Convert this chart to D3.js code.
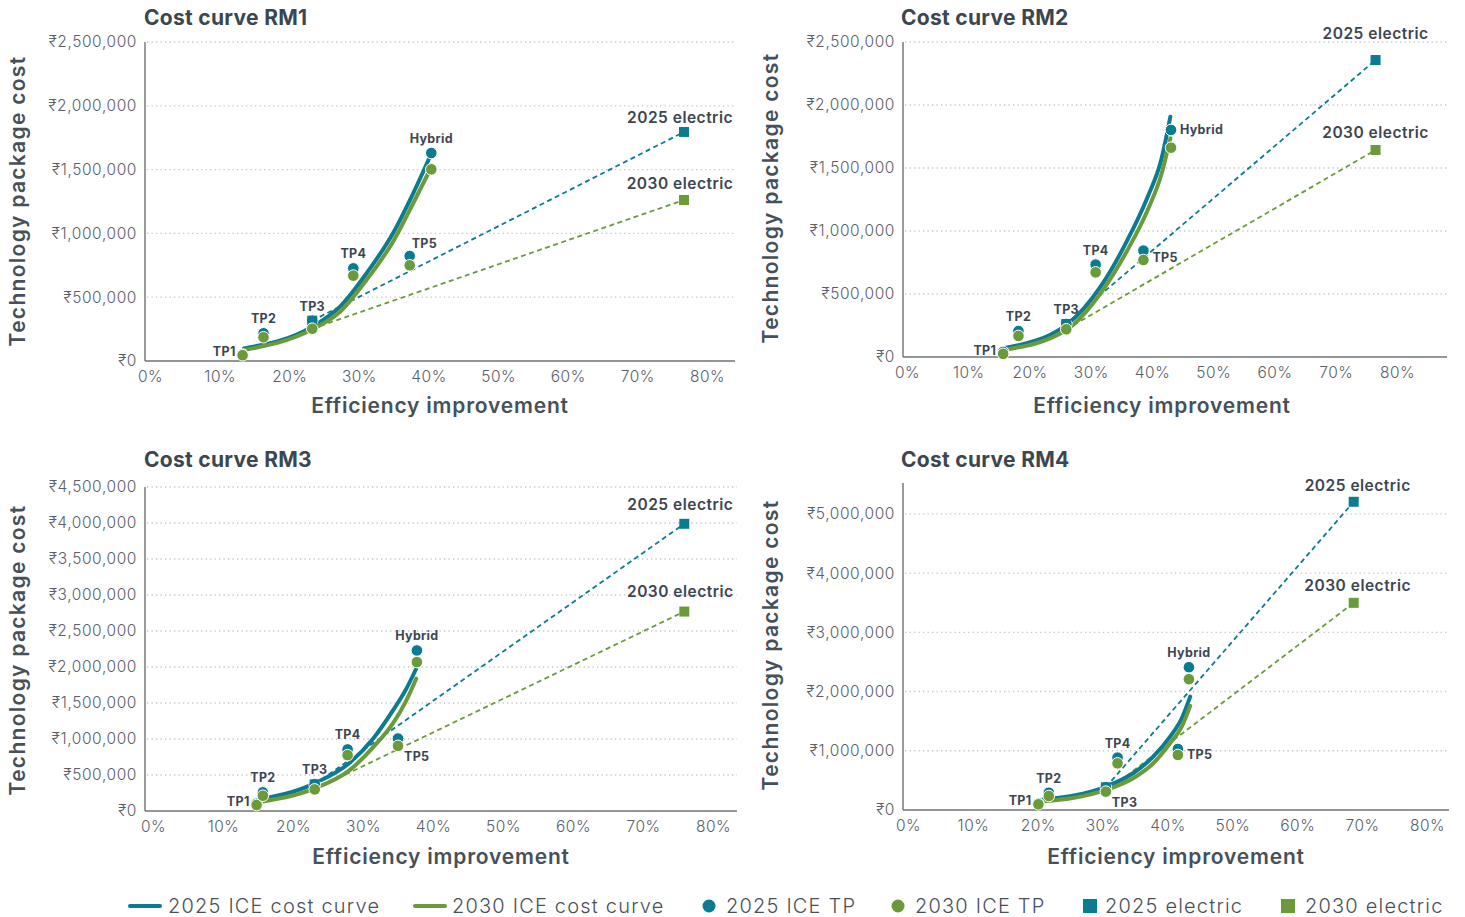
<!DOCTYPE html>
<html>
<head>
<meta charset="utf-8">
<script src="https://cdn.jsdelivr.net/npm/d3@7"></script>
<style>
  html, body { margin: 0; padding: 0; background: #fff; }
  svg { display: block; font-family: "Inter", "Lato", "Noto Sans", sans-serif; }
</style>
</head>
<body>
<svg id="chart" width="1465" height="917"></svg>
<script>
// ---------- data ----------
const panelNames = ["Cost curve RM1", "Cost curve RM2", "Cost curve RM3", "Cost curve RM4"];
const tpNames = ["TP1", "TP2", "TP3", "TP4", "TP5", "Hybrid"];
const xTickValues = [0, 0.1, 0.2, 0.3, 0.4, 0.5, 0.6, 0.7, 0.8];

// RM1
const rm1TpEff = [0.133, 0.163, 0.233, 0.292, 0.373, 0.404];
const rm1Tp2025 = [50000, 217000, 316000, 726000, 823000, 1630000];
const rm1Tp2030 = [45000, 186000, 253000, 669000, 750000, 1502000];
const rm1CurveEff = [0.135, 0.233, 0.273, 0.311, 0.349, 0.378, 0.402];
const rm1Curve2025 = [99000, 269000, 426000, 687000, 1001000, 1314000, 1601000];
const rm1Curve2030 = [86000, 248000, 386000, 635000, 935000, 1236000, 1497000];
const rm1ElecEff = 0.767, rm1Elec2025 = 1795000, rm1Elec2030 = 1262000;
const rm1YTicks = [0, 500000, 1000000, 1500000, 2000000, 2500000];

// RM2
const rm2TpEff = [0.157, 0.182, 0.260, 0.308, 0.386, 0.431];
const rm2Tp2025 = [40000, 206000, 262000, 733000, 844000, 1802000];
const rm2Tp2030 = [25000, 167000, 220000, 672000, 770000, 1661000];
const rm2CurveEff = [0.157, 0.260, 0.316, 0.360, 0.393, 0.415, 0.430];
const rm2Curve2025 = [69000, 254000, 558000, 929000, 1272000, 1563000, 1907000];
const rm2Curve2030 = [56000, 214000, 506000, 849000, 1167000, 1444000, 1736000];
const rm2ElecEff = 0.765, rm2Elec2025 = 2357000, rm2Elec2030 = 1643000;
const rm2YTicks = [0, 500000, 1000000, 1500000, 2000000, 2500000];

// RM3
const rm3TpEff = [0.148, 0.157, 0.231, 0.278, 0.350, 0.377];
const rm3Tp2025 = [100000, 259000, 370000, 855000, 1007000, 2230000];
const rm3Tp2030 = [83000, 212000, 300000, 776000, 905000, 2068000];
const rm3CurveEff = [0.148, 0.231, 0.281, 0.315, 0.343, 0.362, 0.376];
const rm3Curve2025 = [152000, 384000, 670000, 1010000, 1400000, 1700000, 1976000];
const rm3Curve2030 = [120000, 314000, 568000, 891000, 1220000, 1537000, 1838000];
const rm3ElecEff = 0.759, rm3Elec2025 = 3989000, rm3Elec2030 = 2770000;
const rm3YTicks = [0, 500000, 1000000, 1500000, 2000000, 2500000, 3000000, 3500000, 4000000, 4500000];

// RM4
const rm4TpEff = [0.201, 0.217, 0.305, 0.323, 0.416, 0.433];
const rm4Tp2025 = [110000, 292000, 383000, 884000, 1030000, 2410000];
const rm4Tp2030 = [96000, 236000, 310000, 788000, 929000, 2208000];
const rm4CurveEff = [0.203, 0.305, 0.347, 0.378, 0.404, 0.422, 0.435];
const rm4Curve2025 = [169000, 394000, 620000, 900000, 1238000, 1549000, 1914000];
const rm4Curve2030 = [140000, 338000, 535000, 789000, 1127000, 1407000, 1757000];
const rm4ElecEff = 0.687, rm4Elec2025 = 5203000, rm4Elec2030 = 3497000;
const rm4YTicks = [0, 1000000, 2000000, 3000000, 4000000, 5000000];

const legendLabels = ["2025 ICE cost curve", "2030 ICE cost curve", "2025 ICE TP", "2030 ICE TP", "2025 electric", "2030 electric"];

// ---------- styling / layout ----------
const TEAL = "#0a7b90";
const GREEN = "#6b9a3a";
const DARK = "#3c4650";
const TICK = "#5b6068";

// plot boxes: position of 0% and 80% ticks, axis line, right edge, top and bottom of the y range
const layouts = [
  { x0: 150, x80: 707, axisX: 145, right: 735, yTop: 42, yBottom: 361, yMax: 2500000,
    titleX: 144, titleY: 25, xTitleX: 440, xTitleY: 413, yTitleX: 25, yTitleY: 201,
    elecDx: -4, elecDy: [-9, -11],
    labelPos: ["l", "a", "a", "a", "ar", "a"] },
  { x0: 907, x80: 1397, axisX: 903, right: 1447, yTop: 42, yBottom: 357, yMax: 2500000,
    titleX: 901, titleY: 25, xTitleX: 1162, xTitleY: 413, yTitleX: 778, yTitleY: 198,
    elecDx: 0, elecDy: [-21, -12],
    labelPos: ["l", "a", "a", "a", "r", "rh"] },
  { x0: 153, x80: 713, axisX: 145, right: 737, yTop: 487, yBottom: 811, yMax: 4500000,
    titleX: 144, titleY: 467, xTitleX: 441, xTitleY: 864, yTitleX: 25, yTitleY: 650,
    elecDx: -4, elecDy: [-14, -15],
    labelPos: ["l", "a", "a", "a", "br", "a"] },
  { x0: 908, x80: 1427, axisX: 903, right: 1449, yTop: 483, yBottom: 810, yMax: 5520000,
    titleX: 901, titleY: 467, xTitleX: 1176, xTitleY: 864, yTitleX: 778, yTitleY: 645,
    elecDx: 4, elecDy: [-11, -12],
    labelPos: ["l", "a", "br", "a", "r", "a"] }
];

const panels = [
  { tpEff: rm1TpEff, tp2025: rm1Tp2025, tp2030: rm1Tp2030, curveEff: rm1CurveEff, c2025: rm1Curve2025, c2030: rm1Curve2030, elecEff: rm1ElecEff, e2025: rm1Elec2025, e2030: rm1Elec2030, yTicks: rm1YTicks },
  { tpEff: rm2TpEff, tp2025: rm2Tp2025, tp2030: rm2Tp2030, curveEff: rm2CurveEff, c2025: rm2Curve2025, c2030: rm2Curve2030, elecEff: rm2ElecEff, e2025: rm2Elec2025, e2030: rm2Elec2030, yTicks: rm2YTicks },
  { tpEff: rm3TpEff, tp2025: rm3Tp2025, tp2030: rm3Tp2030, curveEff: rm3CurveEff, c2025: rm3Curve2025, c2030: rm3Curve2030, elecEff: rm3ElecEff, e2025: rm3Elec2025, e2030: rm3Elec2030, yTicks: rm3YTicks },
  { tpEff: rm4TpEff, tp2025: rm4Tp2025, tp2030: rm4Tp2030, curveEff: rm4CurveEff, c2025: rm4Curve2025, c2030: rm4Curve2030, elecEff: rm4ElecEff, e2025: rm4Elec2025, e2030: rm4Elec2030, yTicks: rm4YTicks }
];

const svg = d3.select("#chart");
const rupee = v => "\u20B9" + d3.format(",")(v);
const ELECTRIC_START = 2; // electric lines branch off from TP3

function drawPanel(i) {
  const P = panels[i], L = layouts[i];
  const g = svg.append("g");
  const x = d3.scaleLinear().domain([0, 0.8]).range([L.x0, L.x80]);
  const y = d3.scaleLinear().domain([0, L.yMax]).range([L.yBottom, L.yTop]);

  // dotted gridlines
  g.append("g").selectAll("line")
    .data(P.yTicks.filter(v => v > 0))
    .join("line")
    .attr("x1", L.axisX + 2).attr("x2", L.right)
    .attr("y1", d => y(d)).attr("y2", d => y(d))
    .attr("stroke", "#c3c6c9").attr("stroke-width", 1.3)
    .attr("stroke-dasharray", "1.3,3.2");

  // y axis labels
  const yAxis = d3.axisLeft(y).tickValues(P.yTicks).tickSize(0).tickPadding(8).tickFormat(rupee);
  const ya = g.append("g").attr("transform", `translate(${L.axisX},0)`).call(yAxis);
  ya.select(".domain").remove();
  ya.selectAll("text").attr("font-size", 15.5).attr("fill", TICK).attr("font-weight", 300)
    .attr("letter-spacing", 0.6).attr("font-family", "Inter, Lato, sans-serif");

  // x axis labels
  const xAxis = d3.axisBottom(x).tickValues(xTickValues).tickSize(0).tickPadding(10).tickFormat(d3.format(".0%"));
  const xa = g.append("g").attr("transform", `translate(0,${L.yBottom})`).call(xAxis);
  xa.select(".domain").remove();
  xa.selectAll("text").attr("font-size", 15.5).attr("fill", TICK).attr("font-weight", 300)
    .attr("letter-spacing", 0.5).attr("font-family", "Inter, Lato, sans-serif");

  // axis lines
  g.append("line").attr("x1", L.axisX).attr("x2", L.axisX).attr("y1", L.yTop).attr("y2", L.yBottom)
    .attr("stroke", "#6d7379").attr("stroke-width", 1.4);
  g.append("line").attr("x1", L.axisX).attr("x2", L.right).attr("y1", L.yBottom).attr("y2", L.yBottom)
    .attr("stroke", "#6d7379").attr("stroke-width", 1.6);

  // titles
  g.append("text").attr("x", L.titleX).attr("y", L.titleY).text(panelNames[i])
    .attr("font-size", 21).attr("font-weight", 700).attr("letter-spacing", 0.3).attr("fill", DARK);
  g.append("text").attr("x", L.xTitleX).attr("y", L.xTitleY).attr("text-anchor", "middle")
    .text("Efficiency improvement").attr("font-size", 21).attr("font-weight", 600)
    .attr("letter-spacing", 0.8).attr("fill", "#46505a");
  g.append("text").attr("transform", `translate(${L.yTitleX},${L.yTitleY}) rotate(-90)`)
    .attr("text-anchor", "middle").text("Technology package cost")
    .attr("font-size", 21).attr("font-weight", 600).attr("letter-spacing", 1.3).attr("fill", "#46505a");

  // electric dashed lines, from TP3 to the electric point
  const elec = [
    { color: TEAL, pts: [[P.tpEff[ELECTRIC_START], P.tp2025[ELECTRIC_START]], [P.elecEff, P.e2025]], label: "2025 electric", dy: L.elecDy[0] },
    { color: GREEN, pts: [[P.tpEff[ELECTRIC_START], P.tp2030[ELECTRIC_START]], [P.elecEff, P.e2030]], label: "2030 electric", dy: L.elecDy[1] }
  ];
  const straight = d3.line().x(d => x(d[0])).y(d => y(d[1]));
  elec.forEach(e => {
    g.append("path").attr("d", straight(e.pts)).attr("fill", "none")
      .attr("stroke", e.color).attr("stroke-width", 1.8).attr("stroke-dasharray", "5,3.5");
  });

  // ICE cost curves
  const curve = d3.line().x(d => x(d[0])).y(d => y(d[1])).curve(d3.curveMonotoneX);
  [[P.c2025, TEAL], [P.c2030, GREEN]].forEach(([vals, color]) => {
    g.append("path").attr("d", curve(P.curveEff.map((e, k) => [e, vals[k]])))
      .attr("fill", "none").attr("stroke", color).attr("stroke-width", 4).attr("stroke-linecap", "round");
  });

  // markers
  const R = 5.8, S = 10;
  g.append("g").selectAll("circle").data(P.tpEff.map((e, k) => [e, P.tp2025[k]])).join("circle")
    .attr("cx", d => x(d[0])).attr("cy", d => y(d[1])).attr("r", R)
    .attr("fill", TEAL).attr("stroke", "#fff").attr("stroke-width", 1);
  elec.forEach((e, k) => {
    g.append("g").selectAll("rect").data(k === 0 ? e.pts : e.pts.slice(1)).join("rect")
      .attr("x", d => x(d[0]) - S / 2).attr("y", d => y(d[1]) - S / 2)
      .attr("width", S).attr("height", S).attr("fill", e.color);
  });
  g.append("g").selectAll("circle").data(P.tpEff.map((e, k) => [e, P.tp2030[k]])).join("circle")
    .attr("cx", d => x(d[0])).attr("cy", d => y(d[1])).attr("r", R)
    .attr("fill", GREEN).attr("stroke", "#fff").attr("stroke-width", 1);

  // electric labels
  elec.forEach(e => {
    const p = e.pts[1];
    g.append("text").attr("x", x(p[0]) + L.elecDx).attr("y", y(p[1]) + e.dy)
      .attr("text-anchor", "middle").text(e.label)
      .attr("font-size", 15.5).attr("font-weight", 600).attr("letter-spacing", 0.5).attr("fill", DARK);
  });

  // TP labels
  tpNames.forEach((name, k) => {
    const px = x(P.tpEff[k]);
    const hi = y(P.tp2025[k]), lo = y(P.tp2030[k]);
    const pos = L.labelPos[k];
    const t = g.append("text").text(name).attr("font-size", 12.5).attr("font-weight", 700)
      .attr("letter-spacing", 0.3).attr("fill", DARK);
    if (pos === "a") t.attr("x", px).attr("y", hi - 10).attr("text-anchor", "middle");
    else if (pos === "l") t.attr("x", px - 7).attr("y", lo + 1).attr("text-anchor", "end");
    else if (pos === "r") t.attr("x", px + 9).attr("y", (hi + lo) / 2 + 7).attr("text-anchor", "start");
    else if (pos === "rh") t.attr("x", px + 9).attr("y", hi + 4.5).attr("text-anchor", "start");
    else if (pos === "ar") t.attr("x", px + 2).attr("y", hi - 8).attr("text-anchor", "start");
    else if (pos === "br") t.attr("x", px + 6).attr("y", lo + 15).attr("text-anchor", "start");
  });
}

panels.forEach((_, i) => drawPanel(i));

// ---------- legend ----------
const legendX = [130, 415, 709, 898, 1090, 1288];
const legendTextX = [168, 452, 726, 915, 1105, 1305];
const legendColors = [TEAL, GREEN, TEAL, GREEN, TEAL, GREEN];
const legendY = 906;
const lg = svg.append("g");
legendLabels.forEach((lab, k) => {
  if (k < 2) {
    lg.append("line").attr("x1", legendX[k]).attr("x2", legendX[k] + 30).attr("y1", legendY).attr("y2", legendY)
      .attr("stroke", legendColors[k]).attr("stroke-width", 4).attr("stroke-linecap", "round");
  } else if (k < 4) {
    lg.append("circle").attr("cx", legendX[k]).attr("cy", legendY).attr("r", 6.5).attr("fill", legendColors[k]);
  } else {
    lg.append("rect").attr("x", legendX[k] - 7).attr("y", legendY - 7).attr("width", 14).attr("height", 14)
      .attr("fill", legendColors[k]);
  }
  lg.append("text").attr("x", legendTextX[k]).attr("y", legendY + 7).text(lab)
    .attr("font-size", 20).attr("font-weight", 300).attr("letter-spacing", 1.2).attr("fill", "#4a5058");
});
</script>
</body>
</html>
